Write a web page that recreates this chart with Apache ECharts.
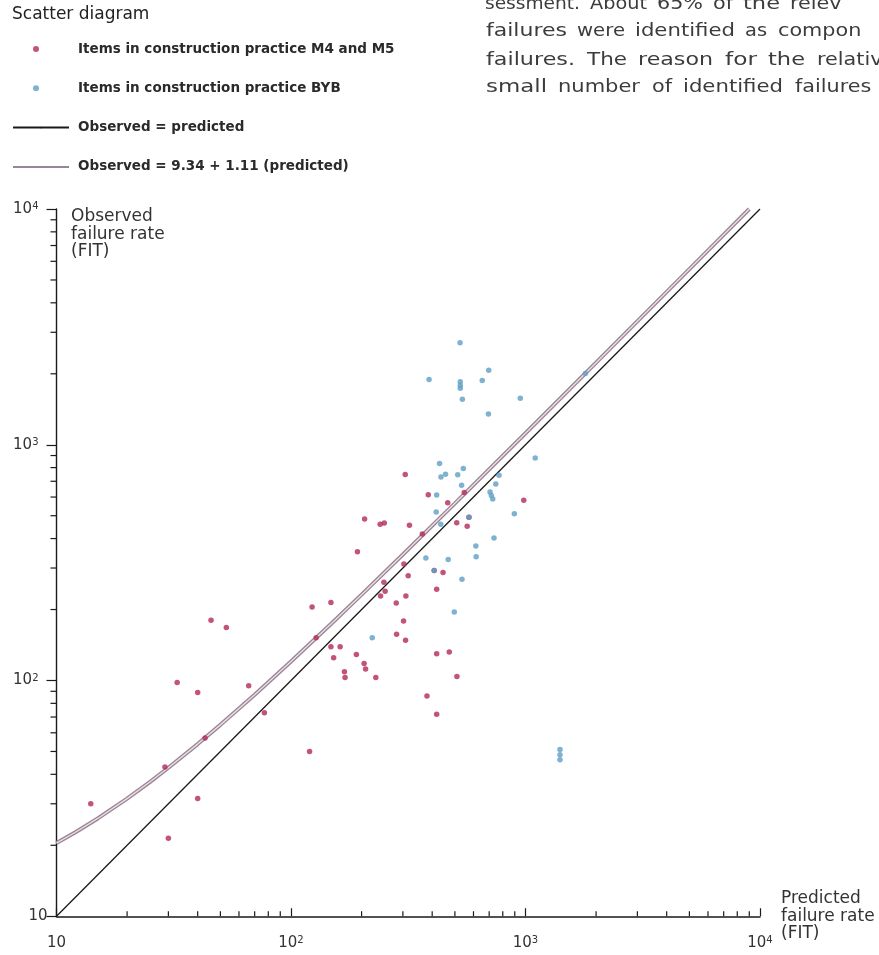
<!DOCTYPE html>
<html><head><meta charset="utf-8">
<script src="https://cdn.jsdelivr.net/npm/echarts@6/dist/echarts.min.js"></script>
<style>html,body{margin:0;padding:0;background:#fff}#c{width:879px;height:955px}</style>
</head><body><div id="c"></div>
<script>
// ---------- data ----------
const m45Predicted = [14, 30, 29, 40, 32.7, 40, 45.6, 53, 66, 43, 77, 120, 123, 148, 128, 148, 162, 152, 190, 205, 208, 169, 170, 230, 281, 241, 252, 309, 249, 302, 303, 316, 282, 308, 363, 320, 307, 206, 240, 250, 192, 385, 466, 548, 983, 574, 509, 564, 408, 445, 418, 418, 473, 510, 380, 418];
const m45Observed  = [30, 21.4, 43, 31.6, 98, 89, 180, 168, 95, 57, 73, 50, 205, 214, 152, 139, 139, 125, 129, 118, 112, 109, 103, 103, 213, 228, 239, 228, 261, 179, 312, 278, 157, 148, 418, 455, 747, 484, 460, 466, 352, 613, 568, 628, 582, 492, 467, 451, 293, 287, 244, 130, 132, 104, 86, 72];
const bybPredicted = [526, 697, 388, 527, 527, 527, 654, 538, 950, 695, 1100, 430, 456, 436, 543, 514, 771, 534, 747, 706, 715, 725, 418, 416, 896, 574, 435, 734, 614, 616, 376, 468, 408, 536, 497, 222, 1403, 1403, 1403, 1800];
const bybObserved  = [2710, 2070, 1890, 1850, 1790, 1735, 1875, 1560, 1575, 1350, 878, 832, 750, 730, 793, 746, 743, 674, 681, 630, 609, 589, 612, 519, 510, 492, 460, 402, 372, 335, 331, 326, 293, 269, 195, 152, 51, 48.4, 46.1, 2005];
const identityPredicted = [10, 10000];
const identityObserved  = [10, 10000];
const fitPredicted = [10, 12, 15, 20, 25, 30, 40, 50, 70, 100, 150, 200, 300, 500, 1000, 2000, 5000, 9000];
const fitObserved  = [20.44, 22.66, 25.99, 31.54, 37.09, 42.64, 53.74, 64.84, 87.04, 120.3, 175.8, 231.3, 342.3, 564.3, 1119, 2229, 5559, 10000];
const minorTicks = [20, 30, 40, 50, 60, 70, 80, 90, 200, 300, 400, 500, 600, 700, 800, 900, 2000, 3000, 4000, 5000, 6000, 7000, 8000, 9000];
const seriesNames = ['Items in construction practice M4 and M5', 'Items in construction practice BYB', 'Observed = predicted', 'Observed = 9.34 + 1.11 (predicted)'];
const titleText = 'Scatter diagram';
const xName = 'Predicted\nfailure rate\n(FIT)';
const yName = 'Observed\nfailure rate\n(FIT)';
const bodyLines = [
  ['sessment.', 'About', '65%', 'of', 'the', 'relev'],
  ['failures', 'were', 'identified', 'as', 'compon'],
  ['failures.', 'The', 'reason', 'for', 'the', 'relativ'],
  ['small', 'number', 'of', 'identified', 'failures']
];

// ---------- layout ----------
const FONT = 'DejaVu Sans';
// [left, right] pixel span of each word (null right = clipped at page edge)
const bodyWordSpan = [
  [[485, 580], [590, 647], [657, 703], [713, 733], [743, 780], [790, null]],
  [[486, 567], [577, 625], [635, 735], [745, 767], [778, null]],
  [[486, 575], [587, 627], [638, 713], [725, 757], [768, 805], [817, null]],
  [[486, 547], [558, 640], [652, 672], [683, 783], [795, null]]
];
const bodyLineY = [4.5, 31.8, 60.2, 87.8];
const bodyFontSize = 17;

const measureCtx = document.createElement('canvas').getContext('2d');
measureCtx.font = bodyFontSize + 'px "' + FONT + '"';

const pairs = (xs, ys) => xs.map((x, i) => [x, ys[i]]);
const supLabel = v => { const e = Math.round(Math.log10(v)); return e === 1 ? '{b|10}' : '{b|10}{s|' + e + '}'; };
const richX = {
  b: { fontFamily: FONT, fontSize: 15, color: '#333' },
  s: { fontFamily: FONT, fontSize: 10, color: '#333', verticalAlign: 'top' }
};
const richY = {
  b: { fontFamily: FONT, fontSize: 15, color: '#333' },
  s: { fontFamily: FONT, fontSize: 10, color: '#333', verticalAlign: 'top', padding: [0, 9, 0, 0] }
};
const axisColor = '#1a1a1a';

const graphics = [];
bodyLines.forEach((words, li) => {
  words.forEach((w, wi) => {
    const span = bodyWordSpan[li][wi];
    const natural = measureCtx.measureText(w).width || 1;
    const sx = span[1] != null ? (span[1] - span[0]) / natural : 1.22;
    graphics.push({ type: 'text', x: span[0], y: bodyLineY[li], scaleX: sx, silent: true,
      style: { text: w, fontFamily: FONT, fontSize: bodyFontSize, fill: '#3c3c3c', verticalAlign: 'middle', align: 'left' } });
  });
});

const legendBase = { fontFamily: FONT, fontSize: 13.5, fontWeight: 'bold', color: '#2a2a2a', lineHeight: 16 };

const chart = echarts.init(document.getElementById('c'));
chart.setOption({
  backgroundColor: '#fff',
  animation: false,
  title: { text: titleText, left: 12, top: 5, padding: 0,
    textStyle: { fontFamily: FONT, fontSize: 17, fontWeight: 'normal', color: '#222', lineHeight: 20 } },
  legend: [
    { data: seriesNames.slice(0, 2), orient: 'vertical', left: 28, top: 36, itemWidth: 56, itemHeight: 6, itemGap: 23.3,
      selectedMode: false, textStyle: Object.assign({}, legendBase, { padding: [0, 0, 0, 9] }) },
    { data: seriesNames.slice(2), orient: 'vertical', left: 7, top: 114.6, itemWidth: 56, itemHeight: 2, itemGap: 23.3,
      selectedMode: false, textStyle: Object.assign({}, legendBase, { padding: [0, 0, 0, 4] }) }
  ],
  graphic: graphics,
  grid: { left: 56.5, right: 119, top: 209, bottom: 32 },
  xAxis: {
    type: 'log', logBase: 10, min: 10, max: 10000,
    axisLine: { show: true, lineStyle: { color: axisColor, width: 1.6 } },
    axisTick: { show: true, inside: true, length: 8, lineStyle: { color: axisColor, width: 1.2 } },
    splitLine: { show: false },
    axisLabel: { margin: 19, formatter: supLabel, rich: richX, showMinLabel: true, showMaxLabel: true },
    name: xName, nameLocation: 'end', nameGap: 21,
    nameTextStyle: { fontFamily: FONT, fontSize: 17, color: '#333', align: 'left', verticalAlign: 'middle', lineHeight: 17.5, padding: [0, 0, 25, 0] }
  },
  yAxis: {
    type: 'log', logBase: 10, min: 10, max: 10000,
    axisLine: { show: true, lineStyle: { color: axisColor, width: 1.4 } },
    axisTick: { show: true, inside: false, length: 10, lineStyle: { color: axisColor, width: 1.2 } },
    splitLine: { show: false },
    axisLabel: { margin: 9, formatter: supLabel, rich: richY, showMinLabel: true, showMaxLabel: true },
    name: yName, nameLocation: 'end', nameGap: 1,
    nameTextStyle: { fontFamily: FONT, fontSize: 17, color: '#333', align: 'left', verticalAlign: 'top', lineHeight: 17.5, padding: [0, 0, 0, 14.5] }
  },
  series: [
    { type: 'custom', name: 'xMinor', silent: true, clip: false, z: 5,
      data: minorTicks.map(v => [v, 10]),
      renderItem: (params, api) => { const p = api.coord([api.value(0), api.value(1)]);
        return { type: 'line', shape: { x1: p[0], y1: p[1], x2: p[0], y2: p[1] - 5 }, style: { stroke: axisColor, lineWidth: 1.2 } }; } },
    { type: 'custom', name: 'yMinor', silent: true, clip: false, z: 5,
      data: minorTicks.map(v => [10, v]),
      renderItem: (params, api) => { const p = api.coord([api.value(0), api.value(1)]);
        return { type: 'line', shape: { x1: p[0], y1: p[1], x2: p[0] - 6, y2: p[1] }, style: { stroke: axisColor, lineWidth: 1.2 } }; } },
    { type: 'line', name: seriesNames[2], data: pairs(identityPredicted, identityObserved), symbol: 'none', silent: true, z: 2,
      lineStyle: { color: '#1a1a1a', width: 1.3 }, itemStyle: { color: '#1a1a1a' } },
    { type: 'line', name: seriesNames[3], data: pairs(fitPredicted, fitObserved), symbol: 'none', silent: true, z: 2,
      lineStyle: { color: '#9a8595', width: 4 }, itemStyle: { color: '#9a8595' } },
    { type: 'line', name: 'fitCore', data: pairs(fitPredicted, fitObserved), symbol: 'none', silent: true, z: 2,
      lineStyle: { color: '#eadde6', width: 1.4 }, itemStyle: { color: '#eadde6' } },
    { type: 'scatter', name: seriesNames[0], data: pairs(m45Predicted, m45Observed), symbolSize: 5.5, z: 4,
      itemStyle: { color: '#b3295a' } },
    { type: 'scatter', name: seriesNames[1], data: pairs(bybPredicted, bybObserved), symbolSize: 5.5, z: 4,
      itemStyle: { color: '#5f9fc6' } }
  ]
});
</script></body></html>
